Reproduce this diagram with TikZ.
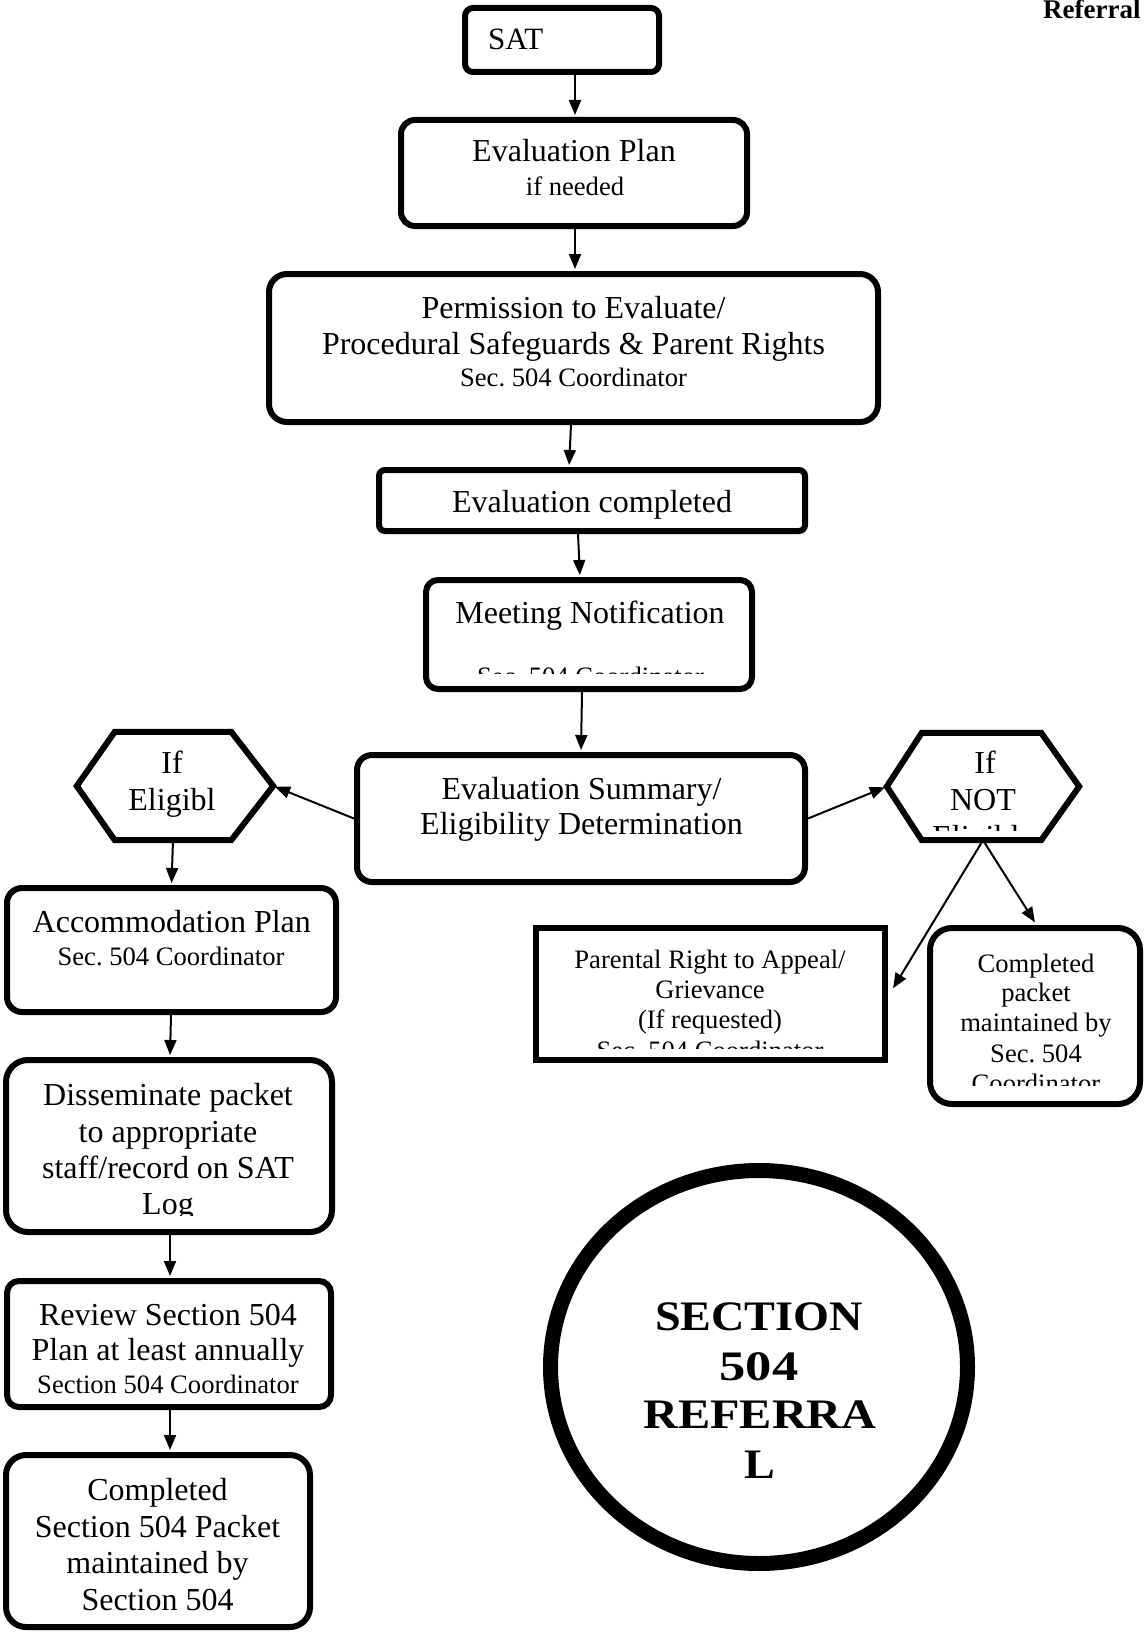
\documentclass[tikz,border=0pt]{standalone}
\usepackage{fontspec}
\usepackage{graphicx}
\setmainfont{Liberation Serif}
\frenchspacing
\usetikzlibrary{arrows.meta,calc,shapes.geometric}
\newcommand\fbig{\fontsize{32}{38}\selectfont}
\newcommand\fmid{\fontsize{31}{36}\selectfont}
\newcommand\fsm{\fontsize{26.6}{30}\selectfont}
\newcommand\fcirc{\fontsize{42}{48}\selectfont\bfseries}
\begin{document}
\begin{tikzpicture}[x=1pt,y=-1pt,
  box/.style={draw, line width=6pt, rounded corners=#1, inner sep=0pt},
  box/.default=14pt,
  hexbox/.style={draw=none, inner sep=0pt},
  hexline/.style={line width=6pt, line join=miter},
  tx/.style={anchor=base, inner sep=0pt, font=\fbig},
  ts/.style={anchor=base, inner sep=0pt, font=\fsm},
  tc/.style={anchor=base, inner sep=0pt, font=\fcirc},
  arr/.style={line width=2pt, shorten >=2pt, -{Triangle[length=15pt,width=12pt]}},
]
\useasboundingbox (0,0) rectangle (1144,1632);

% header
\begin{scope}
\clip (0,0) rectangle (1144,1632);
\node[anchor=base west, inner sep=0pt, font=\fontsize{27}{30}\selectfont\bfseries] (hdr) at (1043,19) {Referral};
\end{scope}

% SAT
\node[box=8pt, minimum width=194pt, minimum height=64pt] (sat) at (562,40) {};
\node[anchor=base west, inner sep=0pt, font=\fmid] (satT) at (488,50) {SAT};

% Evaluation plan
\node[box=14pt, minimum width=346pt, minimum height=106pt] (plan) at (574,173) {};
\node[tx] (planA) at (574,162) {Evaluation Plan};
\node[ts] (planB) at (575,196) {if needed};

% Permission
\node[box=18pt, minimum width=609pt, minimum height=148pt] (perm) at (573.5,348) {};
\node[tx] (permA) at (573.5,318) {Permission to Evaluate/};
\node[tx] (permB) at (573.5,354) {Procedural Safeguards \& Parent Rights};
\node[ts] (permC) at (573.5,386) {Sec. 504 Coordinator};

% Evaluation completed
\node[box=6pt, minimum width=426pt, minimum height=61pt] (done) at (592,500.5) {};
\node[tx] (doneA) at (592,512) {Evaluation completed};

% Meeting notification
\node[box=12pt, minimum width=326pt, minimum height=109pt] (meet) at (589,634.5) {};
\node[tx] (meetA) at (590,623) {Meeting Notification};
\begin{scope}
\clip (430,600) rectangle (750,673);
\node[ts] (meetB) at (590.5,685) {Sec. 504 Coordinator};
\end{scope}

% Evaluation summary
\node[box=15pt, minimum width=448pt, minimum height=127pt] (summ) at (581,818.5) {};
\node[tx] (summA) at (581.5,799) {Evaluation Summary/};
\node[tx] (summB) at (581.5,834) {Eligibility Determination};

% If eligible hexagon
\node[hexbox, minimum width=196pt, minimum height=108pt] (hexE) at (175,786) {};
\draw[hexline] (hexE.west) -- ([xshift=38pt]hexE.north west) -- ([xshift=-42pt]hexE.north east)
  -- (hexE.east) -- ([xshift=-42pt]hexE.south east) -- ([xshift=38pt]hexE.south west) -- cycle;
\node[tx] (hexEA) at (172,773) {If};
\node[tx] (hexEB) at (172,810) {Eligibl};

% If NOT eligible hexagon
\node[hexbox, minimum width=192pt, minimum height=107pt] (hexN) at (983,786.5) {};
\draw[hexline] (hexN.west) -- ([xshift=35pt]hexN.north west) -- ([xshift=-38pt]hexN.north east)
  -- (hexN.east) -- ([xshift=-38pt]hexN.south east) -- ([xshift=35pt]hexN.south west) -- cycle;
\node[tx] (hexNA) at (985,773) {If};
\node[tx] (hexNB) at (983,810) {NOT};
\begin{scope}
\clip (890,740) rectangle (1076,830);
\node[tx] (hexNC) at (983,847) {Eligible};
\end{scope}

% Accommodation plan
\node[box=15pt, minimum width=329pt, minimum height=124pt] (acc) at (171.5,950) {};
\node[tx] (accA) at (171.8,932) {Accommodation Plan};
\node[ts] (accB) at (171,965) {Sec. 504 Coordinator};

% Disseminate
\node[box=22pt, minimum width=326pt, minimum height=172pt] (diss) at (169,1146) {};
\node[tx] (dissA) at (168,1105) {Disseminate packet};
\node[tx] (dissB) at (168,1142) {to appropriate};
\node[tx] (dissC) at (168,1178) {staff/record on SAT};
\begin{scope}
\clip (20,1180) rectangle (320,1215);
\node[tx] (dissD) at (168,1214) {Log};
\end{scope}

% Review
\node[box=12pt, minimum width=324pt, minimum height=126pt] (rev) at (169,1344) {};
\node[tx] (revA) at (168,1325) {Review Section 504};
\node[tx] (revB) at (168,1360) {Plan at least annually};
\node[ts] (revC) at (168,1393) {Section 504 Coordinator};

% Completed section 504 packet
\node[box=20pt, minimum width=304pt, minimum height=172pt] (comp) at (158,1541) {};
\node[tx] (compA) at (157.5,1500) {Completed};
\node[tx] (compB) at (157.5,1537) {Section 504 Packet};
\node[tx] (compC) at (157.5,1573) {maintained by};
\node[tx] (compD) at (157.5,1610) {Section 504};

% Parental right to appeal
\node[draw, line width=6pt, inner sep=0pt, minimum width=349pt, minimum height=132pt] (appeal) at (710.5,994) {};
\node[ts] (appA) at (710,968) {Parental Right to Appeal/};
\node[ts] (appB) at (710,998) {Grievance};
\node[ts] (appC) at (710,1028) {(If requested)};
\begin{scope}
\clip (545,1030) rectangle (875,1048);
\node[ts] (appD) at (710,1059) {Sec. 504 Coordinator};
\end{scope}

% Completed packet
\node[box=22pt, minimum width=210pt, minimum height=176pt] (pack) at (1035,1016) {};
\node[ts] (packA) at (1036,972) {Completed};
\node[ts] (packB) at (1036,1001) {packet};
\node[ts] (packC) at (1036,1031) {maintained by};
\node[ts] (packD) at (1036,1062) {Sec. 504};
\begin{scope}
\clip (940,1065) rectangle (1130,1085);
\node[ts] (packE) at (1036,1092) {Coordinator};
\end{scope}

% Circle
\node[draw, ellipse, line width=15pt, inner sep=0pt, minimum width=417pt, minimum height=393pt] (circ) at (759,1367) {};
\node[tc] (circA) at (759,1330) {\scalebox{1.1}[1]{SECTION}};
\node[tc] (circB) at (759,1380) {\scalebox{1.25}[1]{504}};
\node[tc] (circC) at (760,1428) {\scalebox{1.15}[1]{REFERRA}};
\node[tc] (circD) at (760,1478) {\scalebox{1.1}[1]{L}};

% Connectors
\draw[arr] ([xshift=13pt]sat.south) -- ([xshift=1pt]plan.north);
\draw[arr] ([xshift=1pt]plan.south) -- ([xshift=1.5pt]perm.north);
\draw[arr] ([xshift=-2.5pt]perm.south) -- ([xshift=-23pt]done.north);
\draw[arr] ([xshift=-14pt]done.south) -- ([xshift=-9pt]meet.north);
\draw[arr] ([xshift=-7pt]meet.south) -- (summ.north);
\draw[arr] (summ.west) -- (hexE.east);
\draw[arr] (summ.east) -- (hexN.west);
\draw[arr] ([xshift=-2pt]hexE.south) -- (acc.north);
\draw[arr] (hexN.south) -- ($(appeal.east)+(4,-4)$);
\draw[arr] (hexN.south) -- ($(pack.north)+(1,-1)$);
\draw[arr] ([xshift=-0.5pt]acc.south) -- ([xshift=1pt]diss.north);
\draw[arr] ([xshift=1pt]diss.south) -- ([xshift=1pt]rev.north);
\draw[arr] ([xshift=1pt]rev.south) -- ([xshift=12pt]comp.north);
\end{tikzpicture}
\end{document}
